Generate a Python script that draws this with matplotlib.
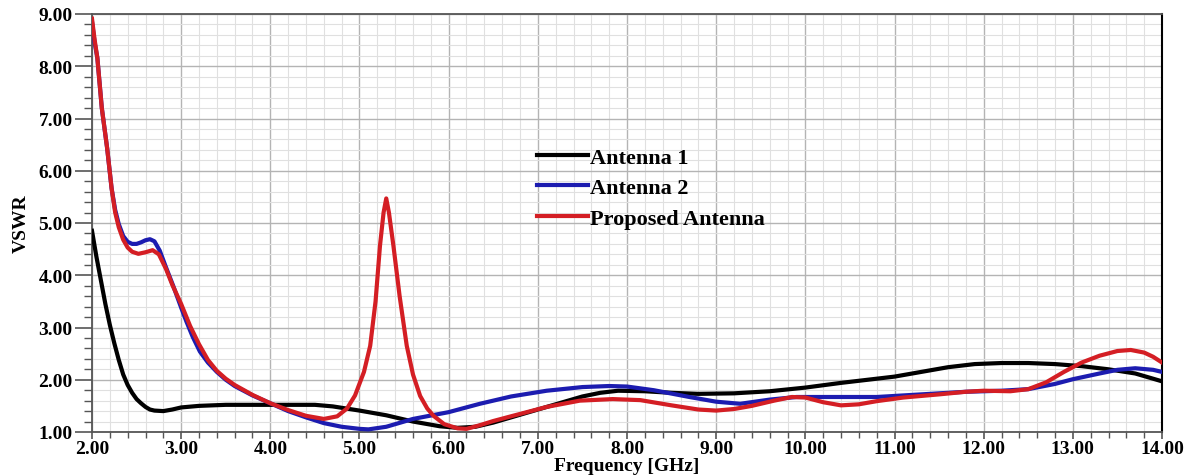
import matplotlib
matplotlib.use('Agg')
from matplotlib import pyplot as plt
from matplotlib.ticker import MultipleLocator, FormatStrFormatter

# frequency (GHz) / VSWR
ant1_f = [2.0, 2.05, 2.1, 2.15, 2.2, 2.25, 2.3, 2.35, 2.4, 2.45, 2.5, 2.55,
          2.6, 2.65, 2.7, 2.8, 2.9, 3.0, 3.2, 3.5, 4.0, 4.5, 4.7, 5.0, 5.3,
          5.6, 5.9, 6.1, 6.3, 6.5, 6.7, 7.0, 7.3, 7.5, 7.7, 7.9, 8.2, 8.5,
          8.8, 9.2, 9.6, 10.0, 10.4, 10.8, 11.0, 11.3, 11.6, 11.9, 12.2,
          12.5, 12.8, 13.1, 13.4, 13.7, 14.0]
ant1_v = [4.85, 4.35, 3.90, 3.45, 3.05, 2.70, 2.38, 2.10, 1.90, 1.75, 1.63,
          1.55, 1.48, 1.43, 1.41, 1.40, 1.43, 1.47, 1.50, 1.52, 1.52, 1.52,
          1.49, 1.41, 1.32, 1.20, 1.11, 1.08, 1.10, 1.18, 1.28, 1.43, 1.58,
          1.68, 1.75, 1.79, 1.78, 1.75, 1.73, 1.74, 1.78, 1.85, 1.94, 2.02,
          2.06, 2.15, 2.24, 2.30, 2.32, 2.32, 2.30, 2.26, 2.20, 2.12, 1.97]

ant2_f = [2.0, 2.03, 2.06, 2.11, 2.17, 2.22, 2.26, 2.3, 2.35, 2.4, 2.45, 2.5,
          2.55, 2.6, 2.65, 2.7, 2.76, 2.83, 2.91, 3.0, 3.06, 3.13, 3.21, 3.3,
          3.4, 3.5, 3.6, 3.8, 4.0, 4.2, 4.4, 4.6, 4.8, 5.0, 5.1, 5.3, 5.6,
          6.0, 6.35, 6.7, 7.1, 7.5, 7.8, 8.0, 8.3, 8.7, 9.0, 9.27, 9.6, 9.9,
          10.4, 10.8, 11.3, 11.8, 12.2, 12.5, 12.8, 13.0, 13.3, 13.5, 13.7,
          13.9, 14.0]
ant2_v = [8.85, 8.45, 8.16, 7.20, 6.43, 5.66, 5.25, 4.98, 4.75, 4.64, 4.60,
          4.60, 4.63, 4.67, 4.69, 4.65, 4.47, 4.15, 3.80, 3.38, 3.11, 2.82,
          2.54, 2.33, 2.15, 2.00, 1.88, 1.70, 1.55, 1.40, 1.28, 1.17, 1.10,
          1.06, 1.05, 1.10, 1.25, 1.38, 1.54, 1.68, 1.79, 1.86, 1.88, 1.87,
          1.80, 1.67, 1.58, 1.54, 1.62, 1.67, 1.67, 1.67, 1.72, 1.77, 1.79,
          1.82, 1.92, 2.01, 2.12, 2.19, 2.22, 2.19, 2.15]

prop_f = [2.0, 2.03, 2.06, 2.11, 2.17, 2.22, 2.26, 2.3, 2.35, 2.4, 2.45, 2.52,
          2.6, 2.68, 2.75, 2.83, 2.9, 3.0, 3.1, 3.2, 3.3, 3.4, 3.5, 3.6, 3.8,
          4.0, 4.2, 4.4, 4.6, 4.75, 4.86, 4.95, 5.05, 5.12, 5.18, 5.23, 5.27,
          5.3, 5.33, 5.38, 5.45, 5.53, 5.6, 5.68, 5.76, 5.83, 5.95, 6.1, 6.2,
          6.35, 6.5, 6.72, 7.1, 7.47, 7.84, 8.15, 8.5, 8.8, 9.0, 9.2, 9.4,
          9.65, 9.85, 10.0, 10.2, 10.4, 10.6, 10.8, 11.1, 11.5, 11.8, 12.0,
          12.3, 12.5, 12.7, 12.9, 13.1, 13.3, 13.5, 13.65, 13.8, 13.9, 14.0]
prop_v = [8.91, 8.50, 8.16, 7.20, 6.43, 5.66, 5.20, 4.92, 4.68, 4.53, 4.45,
          4.41, 4.44, 4.48, 4.40, 4.12, 3.82, 3.45, 3.03, 2.68, 2.38, 2.17,
          2.02, 1.90, 1.71, 1.55, 1.42, 1.31, 1.25, 1.30, 1.45, 1.70, 2.15,
          2.65, 3.50, 4.57, 5.20, 5.47, 5.20, 4.57, 3.60, 2.65, 2.10, 1.69,
          1.45, 1.31, 1.15, 1.07, 1.06, 1.13, 1.21, 1.31, 1.48, 1.60, 1.63,
          1.61, 1.51, 1.43, 1.41, 1.44, 1.50, 1.60, 1.67, 1.66, 1.57, 1.51,
          1.53, 1.59, 1.66, 1.72, 1.77, 1.79, 1.78, 1.82, 1.95, 2.15, 2.33,
          2.46, 2.55, 2.57, 2.52, 2.44, 2.33]

plt.rcParams['font.family'] = 'Liberation Serif'
plt.rcParams['font.weight'] = 'bold'

fig = plt.figure(figsize=(11.94, 4.77), dpi=100)
ax = fig.add_axes([92 / 1194, 1 - 433 / 477, 1070 / 1194, 418 / 477])

ax.plot(ant1_f, ant1_v, color='#000000', lw=3.0, label='Antenna 1', zorder=3)
ax.plot(ant2_f, ant2_v, color='#1c1cb0', lw=3.0, label='Antenna 2', zorder=4)
ax.plot(prop_f, prop_v, color='#d41e24', lw=3.0, label='Proposed Antenna',
        zorder=5)

ax.set_xlim(2, 14)
ax.set_ylim(1, 9)
ax.xaxis.set_major_locator(MultipleLocator(1))
ax.xaxis.set_minor_locator(MultipleLocator(0.2))
ax.yaxis.set_major_locator(MultipleLocator(1))
ax.yaxis.set_minor_locator(MultipleLocator(0.2))
ax.xaxis.set_major_formatter(FormatStrFormatter('%.2f'))
ax.yaxis.set_major_formatter(FormatStrFormatter('%.2f'))

ax.grid(which='major', color='#b4b4b4', lw=1.0)
ax.grid(which='minor', color='#e0e0e0', lw=0.8)
ax.set_axisbelow(True)

ax.tick_params(axis='y', which='major', direction='out', length=12,
               width=1.2, color='#555555', labelsize=14, pad=2)
ax.tick_params(axis='y', which='minor', direction='out', length=6,
               width=1.0, color='#555555')
ax.tick_params(axis='x', which='major', direction='out', length=5,
               width=1.2, color='#555555', labelsize=14, pad=1)
ax.tick_params(axis='x', which='minor', direction='out', length=4,
               width=1.0, color='#555555')

for side in ['left', 'bottom', 'top']:
  ax.spines[side].set_color('#555555')
  ax.spines[side].set_linewidth(1.3)
ax.spines['right'].set_color('#000000')
ax.spines['right'].set_linewidth(1.5)

ax.set_xlabel('Frequency [GHz]', fontsize=14, fontweight='bold', labelpad=0)
ax.set_ylabel('VSWR', fontsize=14, fontweight='bold', labelpad=6)

ax.legend(loc='upper left', bbox_to_anchor=(537 / 1194, 1 - 148 / 477),
          bbox_transform=fig.transFigure, frameon=False,
          handlelength=2.3, handletextpad=0.1, labelspacing=0.45,
          borderpad=0, borderaxespad=0, prop={'weight': 'bold', 'size': 16})

fig.savefig('out.png', dpi=100)
